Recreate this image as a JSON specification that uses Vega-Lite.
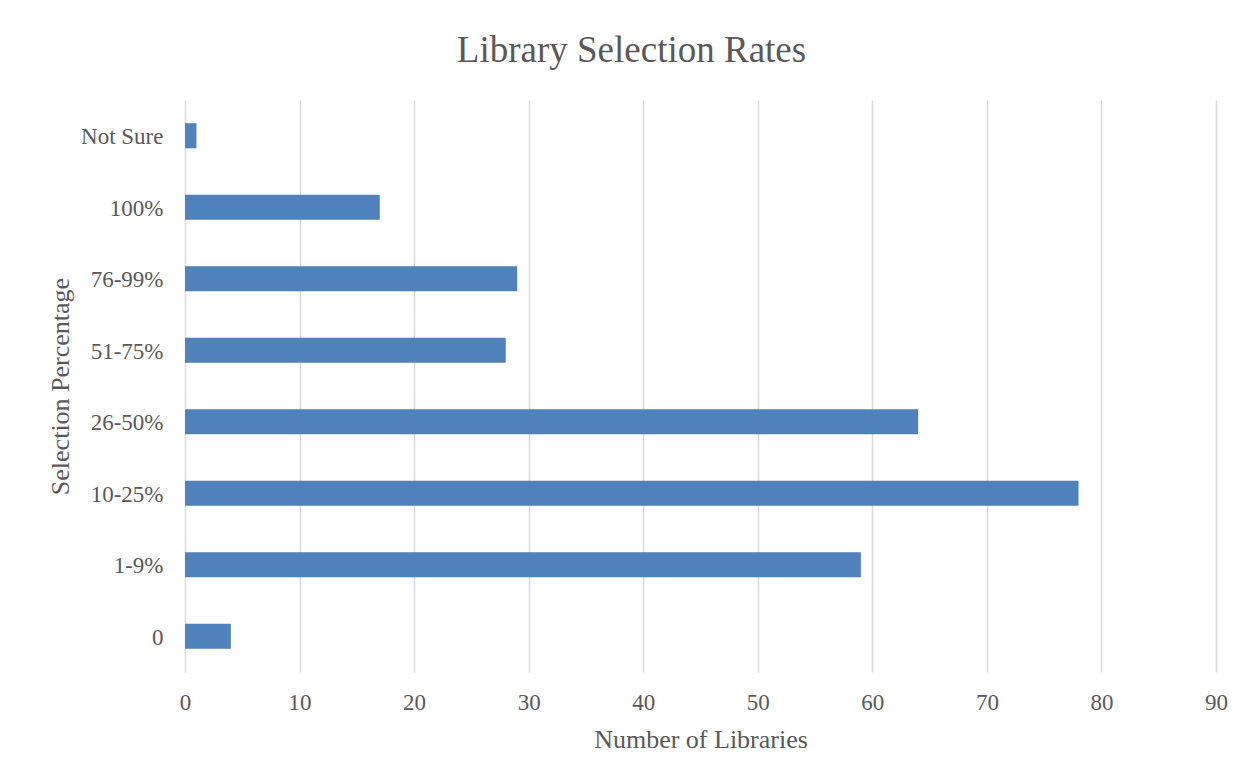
{
  "$schema": "https://vega.github.io/schema/vega-lite/v6.json",
  "autosize": {"type": "none"},
  "padding": {"left": 185, "top": 100, "right": 37, "bottom": 110},
  "width": 1031,
  "height": 572,
  "background": "#ffffff",
  "title": {
    "text": "Library Selection Rates",
    "font": "Liberation Serif",
    "fontSize": 37,
    "fontWeight": "normal",
    "color": "#595959",
    "anchor": "middle",
    "frame": "group",
    "dx": -69,
    "offset": 30
  },
  "data": {
    "values": [
      {"range": "Not Sure", "libraries": 1},
      {"range": "100%", "libraries": 17},
      {"range": "76-99%", "libraries": 29},
      {"range": "51-75%", "libraries": 28},
      {"range": "26-50%", "libraries": 64},
      {"range": "10-25%", "libraries": 78},
      {"range": "1-9%", "libraries": 59},
      {"range": "0", "libraries": 4}
    ]
  },
  "mark": {"type": "bar", "color": "#4f81bd"},
  "encoding": {
    "y": {
      "field": "range",
      "type": "nominal",
      "sort": ["Not Sure", "100%", "76-99%", "51-75%", "26-50%", "10-25%", "1-9%", "0"],
      "scale": {"paddingInner": 0.65, "paddingOuter": 0.325},
      "axis": {
        "title": "Selection Percentage",
        "titleFont": "Liberation Serif",
        "titleFontSize": 26,
        "titleFontWeight": "normal",
        "titleColor": "#595959",
        "titlePadding": 7,
        "labelFont": "Liberation Serif",
        "labelFontSize": 23,
        "labelColor": "#595959",
        "labelPadding": 22,
        "labelOffset": 1.5,
        "ticks": false,
        "domain": false,
        "grid": false
      }
    },
    "x": {
      "field": "libraries",
      "type": "quantitative",
      "scale": {"domain": [0, 90], "nice": false},
      "axis": {
        "values": [0, 10, 20, 30, 40, 50, 60, 70, 80, 90],
        "title": "Number of Libraries",
        "titleFont": "Liberation Serif",
        "titleFontSize": 26,
        "titleFontWeight": "normal",
        "titleColor": "#595959",
        "titlePadding": 12,
        "labelFont": "Liberation Serif",
        "labelFontSize": 23,
        "labelColor": "#595959",
        "labelPadding": 19,
        "labelFlush": false,
        "ticks": false,
        "tickSize": 0,
        "domain": false,
        "grid": true,
        "gridColor": "#d9d9d9",
        "gridWidth": 1.5
      }
    }
  },
  "config": {
    "view": {"stroke": null}
  }
}
